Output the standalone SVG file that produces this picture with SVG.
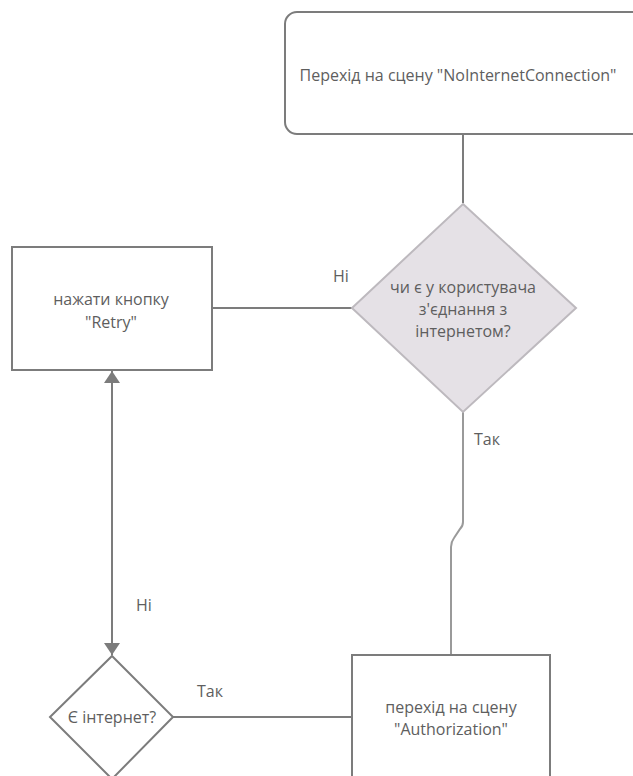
<svg xmlns="http://www.w3.org/2000/svg" width="633" height="776" viewBox="0 0 633 776">
<style>
text{font-family:"Open Sans","Noto Sans","DejaVu Sans",sans-serif;font-size:16px;fill:#5e5e5e;text-anchor:middle}
.box{fill:#fff;stroke:#7c7c7c;stroke-width:2}
.dec{fill:#e5e1e6;stroke:#bdb9be;stroke-width:2}
.ln{fill:none;stroke:#7c7c7c;stroke-width:2}
.lnl{fill:none;stroke:#9a9a9a;stroke-width:2}
.lbl{text-anchor:start}
</style>
<defs>
<marker id="ah" viewBox="0 0 12 16" refX="12" refY="8" markerWidth="12" markerHeight="16" orient="auto-start-reverse" markerUnits="userSpaceOnUse">
<path d="M0,0 L12,8 L0,16 z" fill="#7c7c7c"/>
</marker>
</defs>
<g id="connectors">
<path class="ln" d="M463,134 V203"/>
<path class="ln" d="M212,308 H352"/>
<path class="lnl" d="M463,412 V522 Q463,526 460,529 L454,538 Q451,542 451,547 V655"/>
<path class="ln" d="M173,717 H351"/>
<path class="ln" d="M112,371 V655" marker-start="url(#ah)" marker-end="url(#ah)"/>
<text class="lbl" x="333" y="282">Ні</text>
<text class="lbl" x="474" y="445">Так</text>
<text class="lbl" x="136" y="611">Ні</text>
<text class="lbl" x="197" y="697">Так</text>
</g>
<g id="n-nointernet">
<rect class="box" x="285" y="12" width="360" height="122" rx="12"/>
<text x="458" y="81">Перехід на сцену "NoInternetConnection"</text>
</g>
<g id="n-check">
<polygon class="dec" points="463,204 576,308 463,412 352,308"/>
<text x="463" y="293">чи є у користувача</text>
<text x="463" y="315">з'єднання з</text>
<text x="463" y="337">інтернетом?</text>
</g>
<g id="n-retry">
<rect class="box" x="12" y="247" width="200" height="123"/>
<text x="111" y="305">нажати кнопку</text>
<text x="111" y="328">"Retry"</text>
</g>
<g id="n-internet">
<polygon class="box" points="112,656 173,717 112,779 50,717"/>
<text x="112" y="723">Є інтернет?</text>
</g>
<g id="n-auth">
<rect class="box" x="352" y="655" width="198" height="130"/>
<text x="451" y="713">перехід на сцену</text>
<text x="451" y="735">"Authorization"</text>
</g>
</svg>
